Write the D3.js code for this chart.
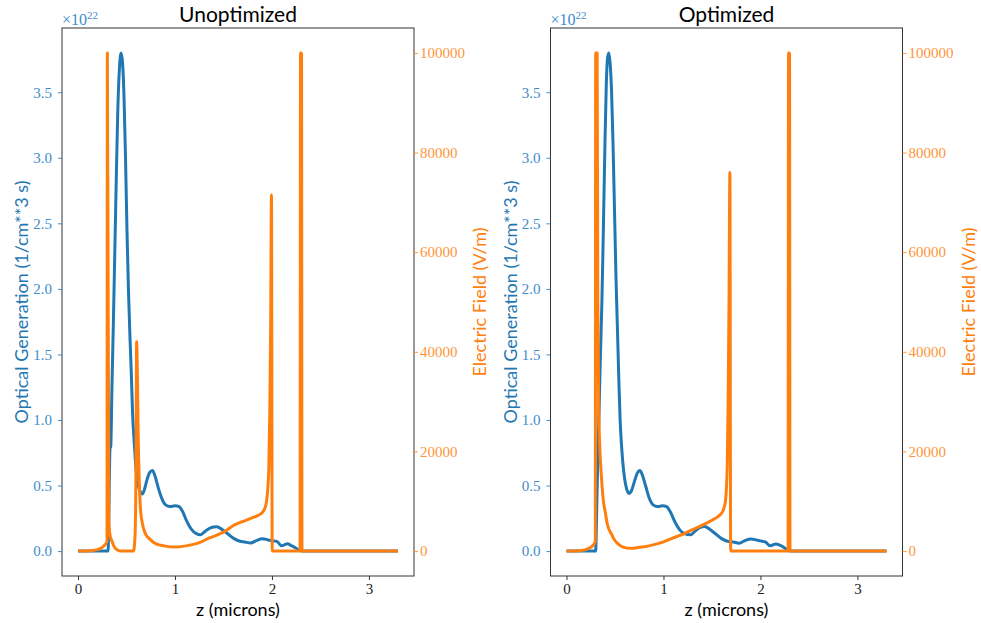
<!DOCTYPE html>
<html><head><meta charset="utf-8">
<script src="https://cdn.jsdelivr.net/npm/d3@7"></script>
<style>body{margin:0;background:#fff}</style>
</head><body>
<svg id="c" width="981" height="623"></svg>
<script>
// ---- data ----
const titles = ["Unoptimized", "Optimized"];
const xLabel = "z (microns)";
const genLabel = "Optical Generation (1/cm**3 s)";
const fieldLabel = "Electric Field (V/m)";
const xTicks = [0, 1, 2, 3];
const genTicks = [0, 0.5, 1, 1.5, 2, 2.5, 3, 3.5];
const fieldTicks = [0, 20000, 40000, 60000, 80000, 100000];
const genExponent = "22";

// optical generation, units of 1e22 1/(cm^3 s) : [z (microns), value]
const genUnopt = [[0,0],[0.1,0],[0.2,0],[0.31,0],[0.33,0.78],[0.338,0.8],[0.35,1.25],[0.365,1.75],[0.38,2.3],[0.395,2.85],[0.41,3.35],[0.425,3.65],[0.445,3.8],[0.46,3.72],[0.475,3.45],[0.49,3.0],[0.505,2.45],[0.52,2.0],[0.535,1.65],[0.55,1.35],[0.563,1.05],[0.578,0.85],[0.593,0.68],[0.607,0.56],[0.625,0.49],[0.645,0.45],[0.664,0.435],[0.685,0.47],[0.71,0.54],[0.74,0.6],[0.768,0.615],[0.795,0.57],[0.825,0.49],[0.86,0.41],[0.9,0.355],[0.95,0.34],[1.0,0.345],[1.04,0.34],[1.08,0.3],[1.12,0.23],[1.17,0.165],[1.22,0.133],[1.265,0.125],[1.31,0.15],[1.36,0.175],[1.43,0.185],[1.49,0.163],[1.55,0.128],[1.61,0.095],[1.67,0.075],[1.72,0.07],[1.78,0.062],[1.84,0.08],[1.9,0.095],[1.96,0.085],[2.0,0.078],[2.05,0.074],[2.1,0.04],[2.16,0.056],[2.2,0.042],[2.25,0.022],[2.29,0.004],[2.32,0],[3.3,0]];
const genOpt = [[0,0],[0.1,0],[0.2,0],[0.3,0],[0.315,0.45],[0.325,0.75],[0.335,1.05],[0.35,1.5],[0.365,1.9],[0.38,2.45],[0.395,3.05],[0.41,3.55],[0.425,3.77],[0.437,3.8],[0.45,3.72],[0.465,3.5],[0.48,3.1],[0.495,2.6],[0.51,2.1],[0.525,1.7],[0.54,1.3],[0.553,1.0],[0.568,0.8],[0.584,0.65],[0.6,0.55],[0.62,0.475],[0.645,0.44],[0.67,0.46],[0.7,0.53],[0.73,0.595],[0.756,0.615],[0.785,0.575],[0.815,0.5],[0.85,0.41],[0.89,0.355],[0.94,0.34],[0.99,0.345],[1.03,0.34],[1.07,0.3],[1.12,0.22],[1.17,0.16],[1.22,0.132],[1.28,0.125],[1.33,0.155],[1.38,0.18],[1.425,0.188],[1.48,0.165],[1.54,0.13],[1.6,0.095],[1.66,0.075],[1.72,0.07],[1.78,0.06],[1.84,0.08],[1.9,0.093],[1.96,0.085],[2.0,0.078],[2.05,0.07],[2.1,0.04],[2.16,0.055],[2.2,0.045],[2.25,0.024],[2.28,0.005],[2.32,0],[3.3,0]];

// electric field, V/m : [z (microns), value]
const fieldUnopt = [[0,0],[0.1,30],[0.15,100],[0.2,300],[0.24,600],[0.27,1100],[0.299,1900],[0.303,100000],[0.318,6000],[0.33,3200],[0.35,2000],[0.37,1000],[0.39,450],[0.42,100],[0.45,0],[0.572,0],[0.588,3000],[0.597,14000],[0.605,42000],[0.612,36000],[0.62,24000],[0.632,14000],[0.646,8000],[0.67,5000],[0.7,3300],[0.73,2600],[0.8,1500],[0.9,1000],[1.0,800],[1.1,1000],[1.2,1400],[1.265,1800],[1.35,2600],[1.42,3100],[1.5,3800],[1.61,5200],[1.68,5800],[1.75,6300],[1.814,6800],[1.88,7400],[1.918,8200],[1.94,9500],[1.955,12000],[1.968,17000],[1.978,28000],[1.987,45000],[1.995,71500],[2.003,0],[2.29,0],[2.295,100000],[2.305,100000],[2.31,0],[3.3,0]];
const fieldOpt = [[0,0],[0.1,30],[0.15,100],[0.2,300],[0.24,650],[0.27,1100],[0.29,1600],[0.297,2000],[0.301,100000],[0.316,100000],[0.323,50000],[0.334,27000],[0.345,20000],[0.36,15000],[0.378,10500],[0.4,7800],[0.42,5500],[0.47,3200],[0.49,2400],[0.54,1300],[0.59,750],[0.66,550],[0.75,750],[0.85,1050],[1.0,1850],[1.1,2650],[1.21,3480],[1.3,4300],[1.417,5350],[1.5,6200],[1.555,6820],[1.59,7400],[1.607,7830],[1.625,8700],[1.64,10170],[1.65,13000],[1.658,17500],[1.667,30000],[1.676,50000],[1.685,76000],[1.693,0],[2.285,0],[2.29,100000],[2.3,100000],[2.305,0],[3.3,0]];

const panels = [
  {title: titles[0], gen: genUnopt, field: fieldUnopt},
  {title: titles[1], gen: genOpt, field: fieldOpt}
];

// ---- styling / layout ----
const BLUE = "#1f77b4", ORANGE = "#ff7f0e";
const BLUE_T = "#3d8ccc", ORANGE_T = "#ff953a";
const SERIF = "'Liberation Serif', serif";
const SANS = "Lato, 'Open Sans', sans-serif";
const lefts = [62, 550.5];
const W = 352, TOP = 28, BOT = 576;

const svg = d3.select("#c");

panels.forEach((p, i) => {
  const L = lefts[i], R = L + W;
  const x = d3.scaleLinear().domain([-0.165, 3.465]).range([L, R]);
  const yG = d3.scaleLinear().domain([-0.19, 3.99]).range([BOT, TOP]);
  const yF = d3.scaleLinear().domain([-5000, 105000]).range([BOT, TOP]);
  const g = svg.append("g");

  // lines
  const lineG = d3.line().x(d => x(d[0])).y(d => yG(d[1])).curve(d3.curveMonotoneX);
  const lineF = d3.line().x(d => x(d[0])).y(d => yF(d[1])).curve(d3.curveMonotoneX);
  g.append("path").attr("d", lineG(p.gen)).attr("fill", "none")
    .attr("stroke", BLUE).attr("stroke-width", 3).attr("stroke-linejoin", "round");
  g.append("path").attr("d", lineF(p.field)).attr("fill", "none")
    .attr("stroke", ORANGE).attr("stroke-width", 3).attr("stroke-linejoin", "round");

  // frame
  g.append("rect").attr("x", L).attr("y", TOP).attr("width", W).attr("height", BOT - TOP)
    .attr("fill", "none").attr("stroke", "#333").attr("stroke-width", 1);

  // axes
  const ax = g.append("g").attr("transform", `translate(0,${BOT})`)
    .call(d3.axisBottom(x).tickValues(xTicks).tickSize(4).tickPadding(3).tickFormat(d3.format("d")));
  ax.select(".domain").remove();
  ax.selectAll("line").attr("stroke", "#333");
  ax.selectAll("text").attr("fill", "#222").style("font-family", SERIF).style("font-size", "15px");

  const ayl = g.append("g").attr("transform", `translate(${L},0)`)
    .call(d3.axisLeft(yG).tickValues(genTicks).tickSize(4).tickPadding(6).tickFormat(d3.format(".1f")));
  ayl.select(".domain").remove();
  ayl.selectAll("line").attr("stroke", BLUE_T);
  ayl.selectAll("text").attr("fill", BLUE_T).style("font-family", SERIF).style("font-size", "15px");

  const ayr = g.append("g").attr("transform", `translate(${R},0)`)
    .call(d3.axisRight(yF).tickValues(fieldTicks).tickSize(4).tickPadding(2).tickFormat(d3.format("d")));
  ayr.select(".domain").remove();
  ayr.selectAll("line").attr("stroke", ORANGE_T);
  ayr.selectAll("text").attr("fill", ORANGE_T).style("font-family", SERIF).style("font-size", "15px");

  // offset text x10^22
  const off = g.append("text").attr("x", L).attr("y", 25).attr("fill", BLUE_T)
    .style("font-family", SERIF).style("font-size", "16px");
  off.append("tspan").text("\u00d710");
  off.append("tspan").attr("dy", -6).style("font-size", "11px").text(genExponent);

  // title
  g.append("text").attr("x", (L + R) / 2).attr("y", 22).attr("text-anchor", "middle")
    .style("font-family", SANS).style("font-size", "21px").attr("fill", "#000").text(p.title);

  // x label
  g.append("text").attr("x", (L + R) / 2).attr("y", 616).attr("text-anchor", "middle")
    .style("font-family", SANS).style("font-size", "18px").attr("fill", "#000").text(xLabel);

  // y labels
  const cy = (TOP + BOT) / 2;
  g.append("text").attr("transform", `translate(${L - 40},${cy}) rotate(-90)`)
    .attr("text-anchor", "middle").attr("dy", "0.35em")
    .style("font-family", SANS).style("font-size", "18px").attr("fill", BLUE).text(genLabel);
  g.append("text").attr("transform", `translate(${R + 66},${cy}) rotate(-90)`)
    .attr("text-anchor", "middle").attr("dy", "0.35em")
    .style("font-family", SANS).style("font-size", "18px").attr("fill", ORANGE).text(fieldLabel);
});
</script>
</body></html>
